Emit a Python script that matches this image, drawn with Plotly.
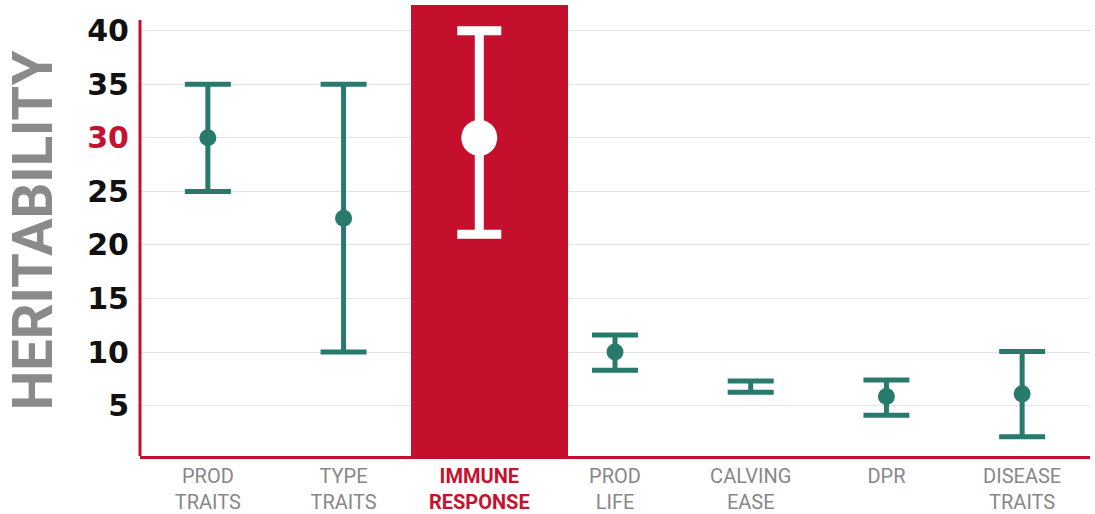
import plotly.graph_objects as go

categories = ["PROD TRAITS", "TYPE TRAITS", "IMMUNE RESPONSE", "PROD LIFE",
              "CALVING EASE", "DPR", "DISEASE TRAITS"]
tick_labels = ["PROD<br>TRAITS", "TYPE<br>TRAITS",
               "<b><span style='color:#c4122f'>IMMUNE<br>RESPONSE</span></b>",
               "PROD<br>LIFE", "CALVING<br>EASE", "DPR", "DISEASE<br>TRAITS"]
center = [30, 22.5, 30, 10, 6.8, 5.85, 6.1]
upper = [35, 35, 40, 11.6, 7.3, 7.4, 10.05]
lower = [25, 10, 21, 8.3, 6.25, 4.1, 2.1]
highlight_cat = "IMMUNE RESPONSE"
highlight_top = 42.4
y_ticks = [5, 10, 15, 20, 25, 30, 35, 40]
y_ticktext = ["5", "10", "15", "20", "25",
              "<span style='color:#c4122f'>30</span>", "35", "40"]

RED = "#c4102c"
TEAL = "#277a6c"

fig = go.Figure()

fig.add_trace(go.Bar(x=[highlight_cat], y=[highlight_top], width=1.15, offset=-0.5,
                     marker=dict(color=RED, line=dict(width=0)),
                     hoverinfo="skip", showlegend=False))

teal_idx = [i for i, c in enumerate(categories) if c != highlight_cat]
hi_idx = [i for i, c in enumerate(categories) if c == highlight_cat]

def sub(lst, idx):
    return [lst[i] for i in idx]

teal_sizes = [0 if categories[i] == "CALVING EASE" else 17 for i in teal_idx]

fig.add_trace(go.Scatter(
    x=sub(categories, teal_idx), y=sub(center, teal_idx), mode="markers",
    marker=dict(color=TEAL, size=teal_sizes, opacity=1, line=dict(width=0)),
    error_y=dict(type="data", symmetric=False,
                 array=[upper[i] - center[i] for i in teal_idx],
                 arrayminus=[center[i] - lower[i] for i in teal_idx],
                 color=TEAL, thickness=5, width=23),
    showlegend=False))

fig.add_trace(go.Scatter(
    x=sub(categories, hi_idx), y=sub(center, hi_idx), mode="markers",
    marker=dict(color="white", size=36, opacity=1, line=dict(width=0)),
    error_y=dict(type="data", symmetric=False,
                 array=[upper[i] - center[i] for i in hi_idx],
                 arrayminus=[center[i] - lower[i] for i in hi_idx],
                 color="white", thickness=9, width=22),
    showlegend=False))

# left axis line (stops below the top of the highlight column)
fig.add_shape(type="line", xref="paper", yref="y", x0=0, x1=0, y0=0.3, y1=41,
              line=dict(color=RED, width=3), layer="above")

fig.update_layout(
    width=1095, height=514,
    margin=dict(l=140, r=5, t=5, b=58),
    paper_bgcolor="white", plot_bgcolor="white",
    bargap=0,
    xaxis=dict(type="category", categoryorder="array", categoryarray=categories,
               tickvals=categories, ticktext=tick_labels, automargin=False,
               tickfont=dict(family="Roboto", size=20, color="#878787"),
               showgrid=False, showline=True, linecolor=RED, linewidth=3,
               ticks="", range=[-0.5, 6.5], zeroline=False, ticklabelstandoff=0),
    yaxis=dict(range=[0.3, 42.4], tickvals=y_ticks, ticktext=y_ticktext,
               automargin=False,
               tickfont=dict(family="DejaVu Sans", size=30, color="#111111", weight="bold"),
               showgrid=True, gridcolor="#e3e3e3", gridwidth=1,
               showline=False, zeroline=False, ticks="", ticklabelstandoff=10,
               title=dict(text="HERITABILITY",
                          font=dict(family="Roboto", size=56, color="#8a8a8a", weight="bold"),
                          standoff=16)),
)

fig.write_html("out.html", config={"displayModeBar": False},
               post_script="document.body.style.margin='0';document.body.style.overflow='hidden';")
